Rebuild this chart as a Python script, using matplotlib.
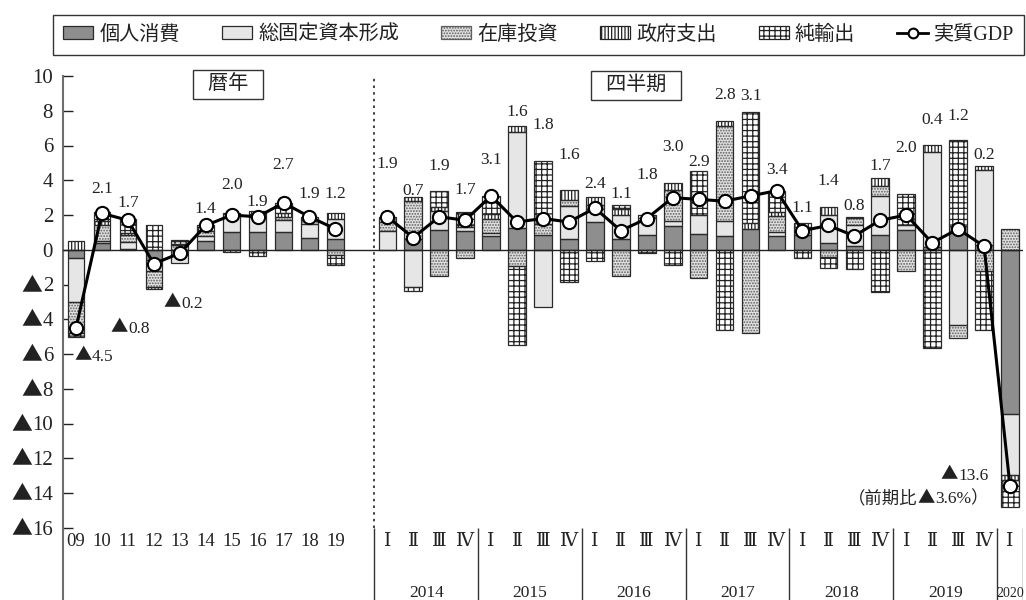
import matplotlib
matplotlib.use('Agg')
import matplotlib.pyplot as plt
from matplotlib.patches import Patch
from matplotlib.lines import Line2D
from matplotlib.transforms import offset_copy
import numpy as np

plt.rcParams['font.family'] = ['Liberation Serif', 'DejaVu Serif', 'Noto Sans CJK JP']
plt.rcParams['hatch.linewidth'] = 0.9

# 暦年 2009-2019 (前年比, 寄与度 %)
years = ['09', '10', '11', '12', '13', '14', '15', '16', '17', '18', '19']
y_consumption = [-0.5, 0.4, 0.05, -0.6, -0.3, 0.5, 1.0, 1.0, 1.0, 0.7, 0.65]
y_investment = [-2.5, 0.1, 0.4, -0.6, -0.45, 0.3, 1.05, 0.9, 0.7, 0.8, 1.1]
y_inventory = [-1.8, 0.9, 0.4, -0.95, 0.25, 0.3, 0.0, 0.15, 0.2, 0.2, -0.3]
y_government = [0.5, 0.25, 0.1, -0.1, 0.1, 0.2, 0.05, 0.2, 0.2, 0.2, 0.35]
y_net_exports = [-0.2, 0.5, 0.8, 1.4, 0.2, 0.1, -0.1, -0.35, 0.6, 0.0, -0.6]
y_gdp = [-4.5, 2.1, 1.7, -0.8, -0.2, 1.4, 2.0, 1.9, 2.7, 1.9, 1.2]

# 四半期 2014Q1-2020Q1 (前期比年率, 寄与度 %)
quarters = ['Ⅰ', 'Ⅱ', 'Ⅲ', 'Ⅳ'] * 6 + ['Ⅰ']
q_years = ['2014', '2015', '2016', '2017', '2018', '2019']
q_consumption = [0.0, 0.6, 1.15, 1.1, 0.8, 1.25, 0.85, 0.6, 1.6, 0.65, 0.85, 1.35, 0.9,
                 0.8, 1.2, 0.8, 0.85, 0.4, 0.2, 0.85, 1.15, 0.15, 1.35, 0.3, -9.45]
q_investment = [1.1, -2.15, 1.1, 0.2, 0.15, 5.55, -3.3, 1.9, 0.75, 1.35, 1.0, 0.3, 1.1,
                0.85, 0.0, 0.25, 0.0, 1.6, 1.25, 2.25, 0.3, 5.45, -4.3, 4.3, -3.5]
q_inventory = [0.5, 2.2, -1.5, -0.45, 0.8, -0.95, 0.65, 0.35, 0.25, -1.5, 0.0, 1.8, -1.65,
               5.5, -4.8, 0.9, 0.45, -0.4, 0.4, 0.55, -1.2, 0.0, -0.8, -1.2, 1.2]
q_government = [0.3, 0.25, 0.2, 0.15, 0.3, 0.3, 0.0, 0.6, 0.45, 0.35, 0.15, 0.4, 0.0,
                0.25, 0.35, 0.25, 0.25, 0.45, 0.05, 0.5, 0.0, 0.45, 0.0, 0.2, -0.3]
q_net_exports = [0.0, -0.2, 0.95, 0.7, 1.05, -4.55, 3.6, -1.85, -0.65, 0.25, -0.2, -0.85, 2.55,
                 -4.6, 6.35, 1.2, -0.45, -0.65, -1.1, -2.45, 1.75, -5.65, 4.95, -3.4, -1.55]
q_gdp = [1.9, 0.7, 1.9, 1.7, 3.1, 1.6, 1.8, 1.6, 2.4, 1.1, 1.8, 3.0, 2.9,
         2.8, 3.1, 3.4, 1.1, 1.4, 0.8, 1.7, 2.0, 0.4, 1.2, 0.2, -13.6]
q_gdp_qoq = -3.6

# where the value labels sit
y_label_dx = [0.69, 0, 0, -0.92, 0.13, 0, 0, 0, 0, 0, 0]
y_label_y = [-6.07, 3.6, 2.79, -4.45, -3.01, 2.45, 3.81, 2.83, 4.99, 3.31, 3.31]
q_label_y = [5.03, 3.5, 4.9, 3.52, 5.25, 8.0, 7.26, 5.53, 3.89, 3.31, 4.41, 6.0, 5.13,
             9.0, 8.93, 4.7, 2.49, 4.04, 2.6, 4.9, 5.95, 7.57, 7.78, 5.56]

names = ['個人消費', '総固定資本形成', '在庫投資', '政府支出', '純輸出']
styles = [
    dict(facecolor='#8e8e8e', hatch=None, hcolor='#2a2a2a'),
    dict(facecolor='#e6e6e6', hatch=None, hcolor='#2a2a2a'),
    dict(facecolor='#e2e2e2', hatch='......', hcolor='#5e5e5e'),
    dict(facecolor='white', hatch='|||||', hcolor='#222222'),
    dict(facecolor='white', hatch='+++', hcolor='#222222'),
]
INK = '#222222'

fig = plt.figure(figsize=(10.26, 6.0), dpi=100)
ax = fig.add_axes([63 / 1026, 0, 960 / 1026, 524 / 600])
ax.set_xlim(-0.5, 36.5)
ax.set_ylim(-20.15, 10)
renderer = fig.canvas.get_renderer()


def signed_text(x, y, v, size, ha='center', fmtstr='{:.1f}', tail='', head='', trans=None):
    # numbers in serif, the minus sign as a full-width ▲ from the CJK font
    base = trans if trans is not None else ax.transData
    px = size * fig.dpi / 72
    lift = -0.33 * px
    parts = [head] if head else []
    if v < 0:
        parts.append('▲')
    parts.append(fmtstr.format(abs(v)) + tail)
    texts = []
    for p in parts:
        fam = ['Noto Sans CJK JP'] if p == '▲' else None
        t = ax.text(x, y, p, ha='left', va='baseline', fontsize=size, color=INK,
                    family=fam, transform=base, zorder=6, clip_on=False)
        texts.append(t)
    widths = [t.get_window_extent(renderer).width for t in texts]
    total = sum(widths)
    start = {'left': 0.0, 'center': -total / 2, 'right': -total}[ha]
    for t, w, p in zip(texts, widths, parts):
        dy = lift + (0.03 * px if p == '▲' else 0)
        t.set_transform(offset_copy(base, fig=fig, x=start, y=dy, units='dots'))
        start += w
    return texts


def draw_stack(x, parts, width):
    x = np.asarray(x)
    pos_base = np.zeros(len(x))
    neg_base = np.zeros(len(x))
    for vals, st in zip(parts, styles):
        vals = np.asarray(vals, dtype=float)
        up = np.where(vals > 0, vals, 0.0)
        down = np.where(vals < 0, vals, 0.0)
        for h, base in ((up, pos_base), (down, neg_base)):
            m = h != 0
            if not m.any():
                continue
            ax.bar(x[m], h[m], width, bottom=base[m], facecolor=st['facecolor'],
                   hatch=st['hatch'], edgecolor=st['hcolor'], linewidth=0, zorder=2)
            ax.bar(x[m], h[m], width, bottom=base[m], fill=False,
                   edgecolor='#2a2a2a', linewidth=0.9, zorder=3)
        pos_base += up
        neg_base += down


x_year = np.arange(len(years))
x_quarter = np.arange(12, 12 + len(q_gdp))

draw_stack(x_year, [y_consumption, y_investment, y_inventory, y_government, y_net_exports], 0.64)
draw_stack(x_quarter, [q_consumption, q_investment, q_inventory, q_government, q_net_exports], 0.68)

ax.axhline(0, color=INK, lw=1.0, zorder=4)

line_kw = dict(color='black', lw=2.2, marker='o', ms=9.5, mfc='white', mec='black', mew=1.5, zorder=5)
ax.plot(x_year, y_gdp, **line_kw)
ax.plot(x_quarter, q_gdp, **line_kw)

# value labels
for i, v in enumerate(y_gdp):
    signed_text(x_year[i] + y_label_dx[i], y_label_y[i], v, 12.5)
for i, ly in enumerate(q_label_y):
    signed_text(x_quarter[i], ly, q_gdp[i], 12.5)
signed_text(35.17, -12.9, q_gdp[-1], 12.5, ha='right')
signed_text(35.17, -14.26, q_gdp_qoq, 12.5, ha='right', head='（前期比', tail='%）')

# section captions
box = dict(boxstyle='square,pad=0.25', fc='white', ec='#333333', lw=1.0)
ax.text(5.86, 9.53, '  暦年  ', ha='center', va='center', fontsize=14.5, color=INK,
        bbox=box, zorder=6, clip_on=False)
ax.text(21.58, 9.47, '  四半期  ', ha='center', va='center', fontsize=14.5, color=INK,
        bbox=box, zorder=6, clip_on=False)

# dotted divider between annual and quarterly blocks
ax.plot([11.5, 11.5], [-16, 10], color=INK, lw=1.2, ls=(0, (1.5, 2.5)), zorder=1)

# category axis
for i, lab in enumerate(years):
    ax.text(x_year[i], -16.8, lab, ha='center', va='center', fontsize=13.5, color=INK)
for i, lab in enumerate(quarters):
    ax.text(x_quarter[i], -16.8, lab, ha='center', va='center', fontsize=13.5, color=INK)
seps = np.arange(11.5, 36, 4).tolist() + [36.5]
ax.vlines(seps, -20.15, -16, color='#333333', lw=1.0)
for k, yr in enumerate(q_years):
    ax.text(13.5 + 4 * k, -19.75, yr, ha='center', va='center', fontsize=12.5, color=INK)
ax.text(36, -19.75, '2020', ha='center', va='center', fontsize=10, color=INK)

# value axis
ticks = list(range(-16, 11, 2))
ax.set_yticks(ticks)
ax.set_xticks([])
ax.tick_params(axis='y', direction='in', length=7, width=1.0, color=INK, labelleft=False)
for t in ticks:
    signed_text(-0.0104, t, t, 15, ha='right', fmtstr='{:.0f}', trans=ax.get_yaxis_transform())
for s in ['top', 'right', 'bottom']:
    ax.spines[s].set_visible(False)
ax.spines['left'].set_color('#6e6e6e')
ax.spines['left'].set_linewidth(1.5)

# legend
handles = [Patch(facecolor=st['facecolor'], edgecolor=st['hcolor'] if st['hatch'] else '#2a2a2a',
                 hatch=st['hatch'], linewidth=0.9) for st in styles]
handles.append(Line2D([], [], color='black', lw=2.0, marker='o', ms=7, mfc='white', mec='black', mew=1.5))
leg = fig.legend(handles, names + ['実質GDP'], ncol=6, loc='center', mode='expand',
                 bbox_to_anchor=(53 / 1026, 1 - 57 / 600, 971 / 1026, 44 / 600),
                 frameon=True, fancybox=False, edgecolor='black', fontsize=14.5,
                 handlelength=1.5, handleheight=0.6, handletextpad=0.3,
                 borderpad=0.5, borderaxespad=0)
leg.get_frame().set_linewidth(1.0)
for t in leg.get_texts():
    t.set_color(INK)

fig.savefig('out.png', dpi=100)
